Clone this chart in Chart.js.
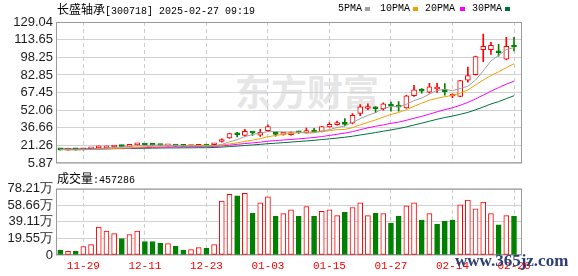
<!DOCTYPE html>
<html>
<head>
<meta charset="utf-8">
<script src="https://cdn.jsdelivr.net/npm/chart.js@4.4.1/dist/chart.umd.min.js"></script>
<style>
body { margin: 0; background: #fff; width: 578px; height: 276px; overflow: hidden; position: relative; }
canvas { position: absolute; left: 0; z-index: 1; }
#kline { top: 0; }
#vol { top: 178px; }
.txt { position: absolute; z-index: 2; white-space: nowrap; color: #000; font: 10px "Liberation Mono", monospace; line-height: 14px; }
.cn { font: 12px "Noto Sans CJK SC", sans-serif; line-height: 14px; }
#title { left: 57px; top: 2px; }
#volTitle { left: 57px; top: 171px; }
.sq { position: absolute; z-index: 2; width: 5px; height: 4px; top: 7px; }
#wm { position: absolute; z-index: 0; left: 235px; top: 70px; font: bold 36px "Noto Sans CJK SC", sans-serif; line-height: 40px; color: #e6e6e6; }
#site { position: absolute; z-index: 3; left: 455px; top: 251px; font: bold 17px "Liberation Serif", serif; line-height: 20px; color: #2c3d73; }
</style>
</head>
<body>
<div id="wm">东方财富</div>
<canvas id="kline" width="578" height="174"></canvas>
<canvas id="vol" width="578" height="98"></canvas>
<div class="txt" id="title"><span class="cn">长盛轴承</span>[300718] 2025-02-27 09:19</div>
<div class="txt" style="left:338px;top:2px">5PMA</div><div class="sq" style="left:365px;background:#a0a0a0"></div>
<div class="txt" style="left:380px;top:2px">10PMA</div><div class="sq" style="left:413px;background:#f0a000"></div>
<div class="txt" style="left:425px;top:2px">20PMA</div><div class="sq" style="left:460px;background:#ff00ff"></div>
<div class="txt" style="left:472px;top:2px">30PMA</div><div class="sq" style="left:505px;background:#00703c"></div>
<div class="txt" id="volTitle"><span class="cn">成交量</span>:457286</div>
<div id="site">www.365jz.com</div>

<script>
// trading days shown on the x axis
var dates = ['11-26','11-27','11-28','11-29','12-02','12-03','12-04','12-05','12-06','12-09',
    '12-10','12-11','12-12','12-13','12-16','12-17','12-18','12-19','12-20','12-23',
    '12-24','12-25','12-26','12-27','12-30','12-31','01-02','01-03','01-06','01-07',
    '01-08','01-09','01-10','01-13','01-14','01-15','01-16','01-17','01-20','01-21',
    '01-22','01-23','01-24','01-27','02-05','02-06','02-07','02-10','02-11','02-12',
    '02-13','02-14','02-17','02-18','02-19','02-20','02-21','02-24','02-25','02-26'];
var dateTicks = [3, 11, 19, 27, 35, 43, 51, 59];

var open  = [17.7,17.3,17.6,17.6,18.3,19.2,19.3,20.0,21.0,20.6, 21.8,22.4,21.8,21.6,21.0,21.2,20.8,20.4,20.6,21.0,
             22.0,24.8,28.0,31.2,30.0,32.9,30.4,34.2,32.4,31.0, 30.8,32.8,32.6,33.5,33.6,37.6,39.4,41.6,40.8,49.2,
             53.6,55.0,53.4,56.2,55.4,54.2,64.8,69.4,67.8,70.6, 70.4,64.5,64.2,78.4,83.0,105.0,105.0,102.8,96.6,108.7];
var high  = [17.9,17.8,17.7,18.4,19.1,20.9,20.8,20.8,21.4,21.8, 23.0,22.6,22.0,21.9,21.5,21.4,21.0,20.9,21.2,21.2,
             22.9,27.2,32.0,32.8,35.4,33.0,35.4,39.3,33.0,32.2, 33.2,33.8,36.4,36.2,38.0,41.3,42.6,44.9,49.2,57.1,
             57.7,55.2,58.6,59.1,59.6,65.0,73.8,71.0,75.5,75.5, 75.3,66.4,78.2,89.7,99.3,118.6,111.2,109.5,115.7,115.7];
var low   = [17.3,17.2,17.3,17.5,18.2,19.0,19.1,19.7,20.0,20.4, 21.5,21.5,21.2,21.0,20.8,20.6,20.3,20.2,20.4,20.5,
             21.8,24.3,27.5,28.8,29.2,30.2,29.2,33.6,29.5,30.4, 30.4,31.8,32.2,32.8,33.2,37.2,39.0,38.4,40.2,47.4,
             52.6,50.0,52.2,51.2,51.2,53.8,64.2,67.0,67.0,67.6, 65.3,63.0,63.8,76.6,82.6,94.5,100.7,99.3,95.9,103.8];
var close = [17.5,17.6,17.5,18.2,18.9,20.0,20.5,20.4,20.3,21.4, 22.6,21.7,21.5,21.3,21.3,20.8,20.5,20.7,21.0,20.7,
             22.6,26.5,31.8,30.6,33.6,32.2,32.8,37.9,31.0,31.6, 32.0,32.3,33.2,33.0,37.8,39.8,41.4,39.8,47.7,55.0,
             54.2,53.4,57.6,55.6,54.8,64.7,69.8,68.8,72.4,71.6, 68.2,64.9,78.0,82.3,98.8,107.8,108.6,102.2,107.8,107.2];

var ma5  = [17.7,17.6,17.5,17.6,17.9,18.5,19.1,19.6,20.1,20.5, 21.0,21.3,21.5,21.7,21.6,21.3,21.0,20.9,20.9,20.7,
            21.1,22.3,24.5,26.4,29.0,30.9,32.2,33.4,33.5,33.1, 33.1,33.0,32.0,32.4,33.7,35.2,37.0,38.4,41.3,44.7,
            47.6,50.0,53.6,55.2,55.1,57.2,60.5,62.7,66.1,69.5, 70.2,69.2,71.0,73.0,78.4,86.4,95.1,100.0,105.0,106.7];
var ma10 = [17.8,17.7,17.6,17.7,17.9,18.2,18.5,18.8,19.0,19.2, 19.7,20.2,20.6,20.9,21.1,21.2,21.2,21.2,21.3,21.2,
            21.2,21.7,22.7,23.6,24.9,26.0,27.3,29.0,30.0,31.1, 32.0,32.6,32.8,33.0,33.4,34.2,35.1,35.3,36.9,39.3,
            41.5,43.6,46.1,48.4,50.1,52.6,55.4,58.3,60.8,62.5, 63.9,65.0,67.1,69.7,74.1,78.4,82.3,85.6,89.2,92.7];
var ma20 = [17.9,17.9,17.9,18.0,18.1,18.3,18.5,18.7,18.9,19.1, 19.3,19.5,19.7,19.9,20.0,20.1,20.2,20.3,20.4,20.4,
            20.5,20.9,21.6,22.3,23.0,23.6,24.2,25.1,25.6,26.1, 26.6,27.1,27.7,28.3,29.1,30.1,31.1,32.1,33.4,35.1,
            36.7,38.1,39.3,40.6,41.7,43.3,45.1,46.7,48.7,50.7, 52.6,54.2,56.4,58.9,61.9,65.3,68.7,71.8,74.8,77.4];
var ma30 = [18.2,18.2,18.2,18.2,18.3,18.3,18.4,18.5,18.6,18.7, 18.8,18.9,19.0,19.1,19.2,19.2,19.3,19.3,19.4,19.4,
            19.6,19.9,20.4,20.8,21.3,21.8,22.3,22.9,23.3,23.8, 24.3,24.8,25.3,25.8,26.5,27.1,27.8,28.5,29.4,30.5,
            31.5,32.6,33.8,34.9,36.1,37.5,39.2,40.8,42.5,44.2, 45.7,47.0,48.5,50.2,52.4,54.9,57.5,59.6,62.2,64.7];

// volume in 万, and whether the volume bar is an up (red) bar
var volume = [5.7,4.2,4.6,10.0,12.2,32.9,28.3,25.2,19.5,24.0, 28.3,16.0,16.0,13.7,13.4,10.3,5.7,6.5,8.8,8.0,
              12.2,63.8,71.8,69.8,72.9,49.2,61.5,68.7,45.8,48.9, 53.5,45.8,57.3,45.8,51.5,53.5,46.6,50.4,56.1,61.5,
              46.6,49.2,48.9,37.8,45.8,58.0,61.5,41.2,48.9,36.6, 40.1,41.2,59.2,64.9,54.6,62.6,48.9,35.5,46.6,45.73];
var volUp = [0,1,0,1,1,1,1,1,0,1, 1,0,0,0,1,0,0,1,1,0,
             1,1,1,0,1,0,1,1,0,1, 1,0,1,0,1,1,1,0,1,1,
             1,0,1,0,0,1,1,0,1,0, 0,0,1,1,1,1,1,0,1,0];

var priceTicks  = [5.87, 21.26, 36.66, 52.06, 67.45, 82.85, 98.25, 113.65, 129.04];
var priceLabels = ['5.87','21.26','36.66','52.06','67.45','82.85','98.25','113.65','129.04'];
var volTicks  = [0, 19.55, 39.11, 58.66, 78.21];
var volLabels = ['0', '19.55万', '39.11万', '58.66万', '78.21万'];

var RED = '#ff0000';
var GREEN = '#008000';
var X_MIN = -0.56, X_MAX = 60.04;

function xy(arr) {
    return arr.map(function(v, i) { return { x: i, y: v }; });
}

// plot frame around the chart area
var framePlugin = {
    id: 'frame',
    beforeDatasetsDraw: function(chart) {
        var a = chart.chartArea, c = chart.ctx;
        c.save();
        c.strokeStyle = '#9a9a9a';
        c.lineWidth = 1;
        c.strokeRect(a.left + 0.5, a.top + 0.5, a.right - a.left - 1, a.bottom - a.top - 1);
        c.restore();
    }
};

var isUp = open.map(function(o, i) { return close[i] >= o; });
var candleColor = isUp.map(function(u) { return u ? RED : GREEN; });
var bodyFill = isUp.map(function(u) { return u ? '#ffffff' : GREEN; });

var labelFont = { family: 'Liberation Sans', size: 13 };

function xScale(showLabels) {
    return {
        type: 'linear', min: X_MIN, max: X_MAX, offset: false, bounds: 'data',
        afterBuildTicks: function(s) { s.ticks = dateTicks.map(function(v) { return { value: v }; }); },
        afterFit: function(s) { s.height = showLabels ? 21 : 0; s.paddingLeft = 0; s.paddingRight = 0; },
        ticks: {
            display: showLabels, autoSkip: false, maxRotation: 0, padding: 4,
            color: RED, font: { family: 'Liberation Mono', size: 11 },
            callback: function(v) { return dates[v]; }
        },
        grid: { color: '#cccccc', drawTicks: false, offset: false },
        border: { display: false, dash: [4, 3] }
    };
}

function yScale(ticks, labels) {
    return {
        min: ticks[0], max: ticks[ticks.length - 1],
        afterBuildTicks: function(s) { s.ticks = ticks.map(function(v) { return { value: v }; }); },
        afterFit: function(s) { s.width = 56; },
        ticks: {
            autoSkip: false, color: '#1c1c1c', font: labelFont, padding: 3,
            callback: function(v) { return labels[ticks.indexOf(v)]; }
        },
        grid: { color: '#d2d2d2', drawTicks: false },
        border: { display: false }
    };
}

new Chart(document.getElementById('kline'), {
    type: 'bar',
    data: {
        datasets: [
            { type: 'line', data: xy(ma5),  borderColor: '#a0a0a0', borderWidth: 1, pointRadius: 0, order: 0 },
            { type: 'line', data: xy(ma10), borderColor: '#f0a000', borderWidth: 1, pointRadius: 0, order: 0 },
            { type: 'line', data: xy(ma20), borderColor: '#ff00ff', borderWidth: 1, pointRadius: 0, order: 0 },
            { type: 'line', data: xy(ma30), borderColor: '#00703c', borderWidth: 1, pointRadius: 0, order: 0 },
            {
                data: open.map(function(o, i) { return { x: i, y: [o, close[i]] }; }),
                backgroundColor: bodyFill, borderColor: candleColor, borderWidth: 1,
                borderSkipped: false, barThickness: 5, minBarLength: 2, grouped: false, order: 1
            },
            {
                data: low.map(function(l, i) { return { x: i, y: [l, high[i]] }; }),
                backgroundColor: candleColor, borderWidth: 0, barThickness: 1, grouped: false, order: 2
            }
        ]
    },
    options: {
        responsive: false, animation: false, events: [],
        layout: { padding: { left: 0, right: 56, top: 22, bottom: 8 } },
        plugins: { legend: { display: false }, tooltip: { enabled: false } },
        scales: { x: xScale(false), y: yScale(priceTicks, priceLabels) }
    },
    plugins: [framePlugin]
});

new Chart(document.getElementById('vol'), {
    type: 'bar',
    data: {
        datasets: [{
            data: xy(volume),
            backgroundColor: volUp.map(function(u) { return u ? '#ffffff' : GREEN; }),
            borderColor: volUp.map(function(u) { return u ? RED : GREEN; }),
            borderWidth: 1, borderSkipped: false, barThickness: 5
        }]
    },
    options: {
        responsive: false, animation: false, events: [],
        layout: { padding: { left: 0, right: 56, top: 9, bottom: 0 } },
        plugins: { legend: { display: false }, tooltip: { enabled: false } },
        scales: { x: xScale(true), y: yScale(volTicks, volLabels) }
    },
    plugins: [framePlugin]
});
</script>
</body>
</html>
